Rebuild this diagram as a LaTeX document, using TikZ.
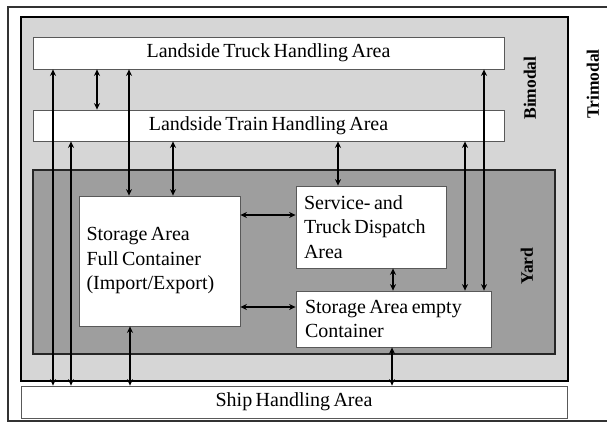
\documentclass[tikz,border=0pt]{standalone}
\usepackage{fontspec}
\setmainfont{Liberation Serif}
\usetikzlibrary{arrows.meta}
\newcommand\lblfontcmd{\fontsize{20}{24.5}\selectfont\spaceskip=3.4pt plus 1pt minus 0.5pt\relax}
\begin{document}
\begin{tikzpicture}[x=1pt,y=-1pt,
  area/.style={draw=black!65, line width=0.8pt, fill=white, inner sep=0pt},
  lbl/.style={font=\lblfontcmd},
  side/.style={font=\bfseries\fontsize{17.5}{20}\selectfont, rotate=90},
  arr/.style={line width=1.6pt, {Stealth[length=6.5pt,width=6pt]}-{Stealth[length=6.5pt,width=6pt]}}
]
\useasboundingbox (0,0) rectangle (607,423);
\node[draw=black!80, fill=white, line width=1.2pt, minimum width=601pt, minimum height=414pt, inner sep=0pt] (tri) at (308.5,214) {};
\node[draw=black, fill=black!16, line width=1.5pt, minimum width=547pt, minimum height=364pt, inner sep=0pt] (bi) at (294.5,199) {};
\node[area, lbl, minimum width=471pt, minimum height=32pt] (truck) at (268.5,53) {Landside Truck Handling Area};
\node[area, lbl, minimum width=471pt, minimum height=31pt] (train) at (268.5,125.5) {Landside Train Handling Area};
\node[draw=black!85, fill=black!38, line width=1.2pt, minimum width=522pt, minimum height=184pt, inner sep=0pt] (yard) at (294,262) {};
\node[area, lbl, minimum height=130pt, inner xsep=7.5pt, text width=146pt, align=flush left] (full) at (159.5,261) {Storage Area\\Full Container\\(Import/Export)};
\node[area, lbl, minimum height=82pt, inner xsep=8pt, text width=134pt, align=flush left] (service) at (371,227) {Service- and\\Truck Dispatch\\Area};
\node[area, lbl, minimum height=56pt, inner xsep=9pt, text width=177pt, align=flush left] (empty) at (393.5,319) {Storage Area empty\\Container};
\node[area, lbl, minimum width=546pt, minimum height=32pt] (ship) at (294,402) {Ship Handling Area};
\node[side] (bimodal) at (530,88) {Bimodal};
\node[side] (trimodal) at (593,84) {Trimodal};
\node[side] (yardlbl) at (527,266) {Yard};
% vertical connectors
\draw[arr] (truck.south -| 53,0) -- (ship.north -| 53,0);
\draw[arr] (train.south -| 71,0) -- (ship.north -| 71,0);
\draw[arr] (truck.south -| 97,0) -- (train.north -| 97,0);
\draw[arr] (truck.south -| 129,0) -- (full.north -| 129,0);
\draw[arr] (train.south -| 173,0) -- (full.north -| 173,0);
\draw[arr] (train.south -| 338,0) -- (service.north -| 338,0);
\draw[arr] (train.south -| 465,0) -- (empty.north -| 465,0);
\draw[arr] (truck.south -| 484,0) -- (empty.north -| 484,0);
\draw[arr] (service.south -| 393,0) -- (empty.north -| 393,0);
\draw[arr] (full.south -| 130,0) -- (ship.north -| 130,0);
\draw[arr] (empty.south -| 392,0) -- (ship.north -| 392,0);
% horizontal connectors
\draw[arr] (full.east |- 0,215) -- (service.west |- 0,215);
\draw[arr] (full.east |- 0,307) -- (empty.west |- 0,307);
\end{tikzpicture}
\end{document}
